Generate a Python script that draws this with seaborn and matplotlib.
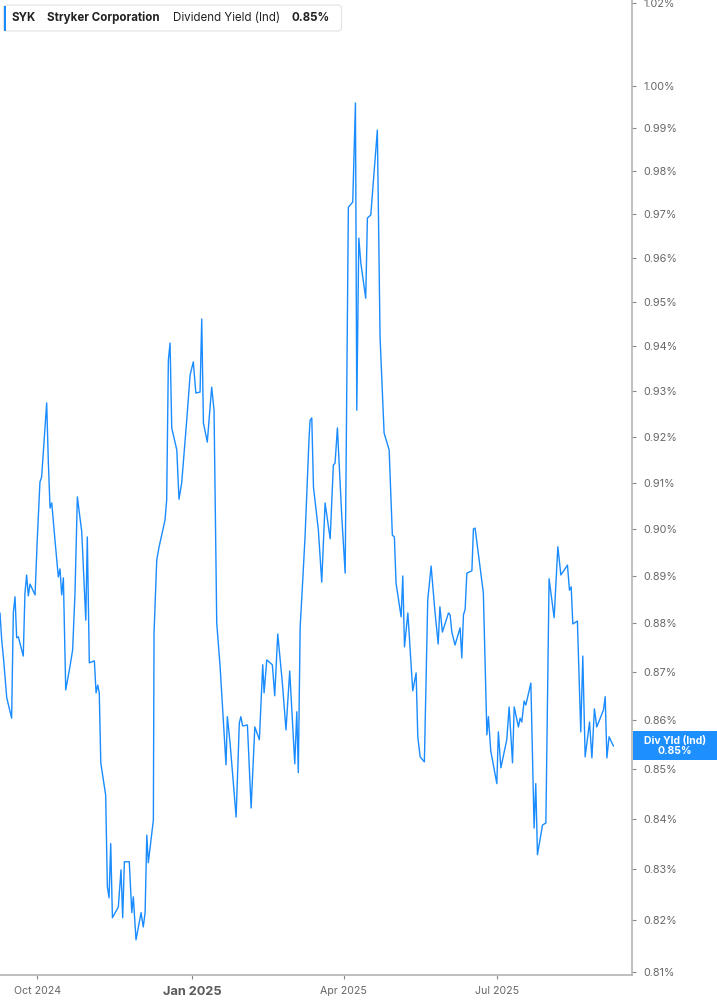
import numpy as np
import pandas as pd
import matplotlib
matplotlib.use("Agg")
import matplotlib.pyplot as plt
from matplotlib.ticker import FixedLocator, FixedFormatter, NullLocator
from matplotlib.patches import FancyBboxPatch, Rectangle
import seaborn as sns

# ---------------- data ----------------
START_DATE = "2024-09-09"

day_offsets = [
    0, 1.0, 2.0, 4.0, 6.9, 7.9, 8.9, 9.9, 10.9, 13.8,
    14.8, 15.8, 16.8, 17.8, 20.8, 22.1, 23.7, 24.7, 27.7, 28.7,
    29.7, 30.7, 32.6, 34.6, 35.6, 36.6, 37.6, 39.0, 41.5, 43.1,
    44.5, 45.9, 48.5, 50.9, 51.8, 53.0, 56.0, 57.0, 58.0, 58.9,
    59.8, 62.7, 63.7, 64.7, 65.7, 66.7, 70.2, 71.8, 72.8, 73.8,
    76.7, 78.2, 79.1, 80.7, 83.7, 85.0, 86.1, 87.1, 88.0, 91.0,
    91.4, 93.0, 94.4, 97.9, 98.9, 99.9, 100.9, 101.9, 104.9, 106.2,
    107.8, 110.8, 112.8, 114.7, 116.2, 118.7, 119.7, 120.7, 123.0, 125.6,
    127.0, 128.6, 130.6, 134.1, 134.9, 136.5, 140.1, 142.0, 142.9, 144.0,
    146.8, 149.0, 151.2, 153.9, 155.9, 156.7, 158.3, 161.6, 163.0, 164.8,
    167.5, 169.7, 171.9, 174.9, 176.1, 177.0, 178.1, 179.1, 181.0, 183.4,
    184.0, 185.0, 186.0, 188.9, 190.9, 192.9, 195.9, 197.8, 198.8, 200.2,
    202.8, 204.8, 206.7, 209.3, 210.9, 211.7, 212.9, 214.1, 217.0, 218.0,
    220.0, 223.9, 225.5, 227.9, 230.9, 232.8, 234.0, 235.0, 238.0, 239.0,
    240.0, 242.0, 244.9, 246.9, 247.9, 249.3, 251.8, 253.8, 255.8, 258.0,
    260.0, 261.0, 262.5, 266.1, 267.1, 268.1, 270.0, 273.0, 274.0, 275.0,
    276.0, 277.0, 280.0, 280.9, 281.9, 286.8, 288.9, 289.8, 291.2, 294.8,
    295.7, 297.2, 300.7, 302.1, 304.1, 305.1, 307.6, 308.6, 309.6, 311.0,
    312.0, 315.0, 316.9, 317.9, 318.9, 321.9, 323.9, 325.8, 328.8, 331.0,
    332.8, 336.7, 337.9, 338.9, 339.9, 342.6, 344.6, 345.8, 347.2, 349.8,
    351.2, 352.7, 354.1, 358.1, 359.1, 360.1, 361.4, 364.0,
]

dividend_yield_pct = [
    0.8822, 0.8766, 0.8730, 0.8646, 0.8604, 0.8822, 0.8856, 0.8770, 0.8772, 0.8732,
    0.8864, 0.8902, 0.8858, 0.8883, 0.8860, 0.8977, 0.9101, 0.9112, 0.9274, 0.9142,
    0.9045, 0.9056, 0.8977, 0.8898, 0.8915, 0.8860, 0.8896, 0.8662, 0.8710, 0.8745,
    0.8864, 0.9069, 0.8994, 0.8807, 0.8983, 0.8718, 0.8722, 0.8656, 0.8672, 0.8656,
    0.8513, 0.8448, 0.8266, 0.8244, 0.8351, 0.8205, 0.8226, 0.8299, 0.8205, 0.8315,
    0.8315, 0.8215, 0.8246, 0.8162, 0.8215, 0.8187, 0.8215, 0.8368, 0.8313, 0.8398,
    0.8780, 0.8934, 0.8962, 0.9019, 0.9062, 0.9369, 0.9407, 0.9219, 0.9171, 0.9064,
    0.9099, 0.9236, 0.9336, 0.9365, 0.9296, 0.9298, 0.9461, 0.9230, 0.9188, 0.9309,
    0.9258, 0.8801, 0.8710, 0.8509, 0.8607, 0.8554, 0.8404, 0.8594, 0.8607, 0.8588,
    0.8590, 0.8422, 0.8586, 0.8560, 0.8714, 0.8656, 0.8724, 0.8714, 0.8650, 0.8778,
    0.8678, 0.8580, 0.8701, 0.8511, 0.8617, 0.8493, 0.8793, 0.8856, 0.8983, 0.9199,
    0.9236, 0.9241, 0.9090, 0.8998, 0.8887, 0.9056, 0.8979, 0.9138, 0.9142, 0.9219,
    0.9026, 0.8906, 0.9716, 0.9728, 0.9960, 0.9258, 0.9645, 0.9588, 0.9508, 0.9691,
    0.9698, 0.9896, 0.9421, 0.9208, 0.9171, 0.8987, 0.8983, 0.8885, 0.8814, 0.8900,
    0.8751, 0.8822, 0.8660, 0.8697, 0.8566, 0.8525, 0.8515, 0.8849, 0.8921, 0.8828,
    0.8757, 0.8835, 0.8782, 0.8822, 0.8818, 0.8782, 0.8755, 0.8791, 0.8728, 0.8818,
    0.8830, 0.8906, 0.8911, 0.9000, 0.9002, 0.8864, 0.8570, 0.8607, 0.8537, 0.8471,
    0.8576, 0.8503, 0.8560, 0.8627, 0.8513, 0.8627, 0.8586, 0.8604, 0.8596, 0.8639,
    0.8631, 0.8676, 0.8382, 0.8471, 0.8329, 0.8388, 0.8392, 0.8894, 0.8812, 0.8962,
    0.8902, 0.8923, 0.8870, 0.8877, 0.8799, 0.8805, 0.8576, 0.8732, 0.8525, 0.8596,
    0.8523, 0.8623, 0.8586, 0.8621, 0.8648, 0.8523, 0.8566, 0.8547,
]

ytick_values = [0.81, 0.82, 0.83, 0.84, 0.85, 0.86, 0.87, 0.88, 0.89, 0.90,
                0.91, 0.92, 0.93, 0.94, 0.95, 0.96, 0.97, 0.98, 0.99, 1.00, 1.02]
xtick_dates = ["2024-10-01", "2025-01-01", "2025-04-01", "2025-07-01"]
xtick_labels = ["Oct 2024", "Jan 2025", "Apr 2025", "Jul 2025"]
bold_xtick = "Jan 2025"

ticker_symbol = "SYK"
company_name = "Stryker Corporation"
metric_name = "Dividend Yield (Ind)"
last_value_text = "0.85%"
badge_title = "Div Yld (Ind)"

# ---------------- style ----------------
LINE_BLUE = "#1a8cff"
AXIS_GRAY = "#b4b4b4"
TEXT_GRAY = "#666666"

sns.set_theme(style="white")
plt.rcParams['font.family'] = ['Inter', 'DejaVu Sans']

df = pd.DataFrame({
    "date": pd.Timestamp(START_DATE) + pd.to_timedelta(day_offsets, unit="D"),
    "yield": dividend_yield_pct,
})

W, H = 717, 1005
fig = plt.figure(figsize=(W / 100, H / 100), dpi=100)
fig.patch.set_facecolor("white")
ax = fig.add_axes([0, 30 / H, 632 / W, 975 / H])
ax.set_facecolor("white")

sns.lineplot(data=df, x="date", y="yield", ax=ax, color=LINE_BLUE,
             linewidth=1.0, estimator=None, sort=False)

ax.set_yscale("log")
ax.set_ylim(0.8094, 1.0207)
ax.set_xlim(pd.Timestamp(START_DATE), pd.Timestamp(START_DATE) + pd.Timedelta(days=375))

ax.yaxis.set_major_locator(FixedLocator(ytick_values))
ax.yaxis.set_major_formatter(FixedFormatter([f"{v:.2f}%" for v in ytick_values]))
ax.yaxis.set_minor_locator(NullLocator())
ax.yaxis.tick_right()
ax.tick_params(axis="y", which="major", left=False, right=True, labelleft=False,
               labelright=True, length=3, width=0.8, color="#888888",
               labelsize=7.8, labelcolor=TEXT_GRAY, pad=5)

xt = [pd.Timestamp(d) for d in xtick_dates]
ax.set_xticks(xt)
lbls = ax.set_xticklabels(xtick_labels)
ax.tick_params(axis="x", which="major", bottom=True, length=3, width=0.8,
               color="#888888", labelsize=7.6, labelcolor=TEXT_GRAY, pad=5)
ax.xaxis.set_minor_locator(NullLocator())
for lb in ax.get_xticklabels():
    if lb.get_text() == bold_xtick:
        lb.set_fontweight("bold")
        lb.set_fontsize(9.2)
        lb.set_color("#5a5a5a")

ax.set_xlabel("")
ax.set_ylabel("")
ax.grid(False)
for side in ("top", "left"):
    ax.spines[side].set_visible(False)
for side in ("right", "bottom"):
    ax.spines[side].set_color(AXIS_GRAY)
    ax.spines[side].set_linewidth(1.2)

# ---------------- legend box (top-left) ----------------
tr = fig.dpi_scale_trans
box = FancyBboxPatch((0.035, 9.74), 3.38, 0.26,
                     boxstyle="round,pad=0,rounding_size=0.035",
                     transform=tr, facecolor="white", edgecolor="#e2e2e2",
                     linewidth=0.8, zorder=5)
fig.patches.append(box)
fig.patches.append(Rectangle((0.035, 9.745), 0.025, 0.25, transform=tr,
                             facecolor=LINE_BLUE, edgecolor="none", zorder=6))
ty = 9.875
fig.text(0.12, ty, ticker_symbol, transform=tr, fontsize=8.3, fontweight="bold",
         color="#222222", va="center", ha="left", zorder=7)
fig.text(0.47, ty, company_name, transform=tr, fontsize=8.3, fontweight="bold",
         color="#222222", va="center", ha="left", zorder=7)
fig.text(1.73, ty, metric_name, transform=tr, fontsize=8.3, fontweight="normal",
         color="#222222", va="center", ha="left", zorder=7)
fig.text(2.92, ty, last_value_text, transform=tr, fontsize=8.3, fontweight="bold",
         color="#222222", va="center", ha="left", zorder=7)

# ---------------- last value badge (right) ----------------
fig.patches.append(Rectangle((6.33, 2.45), 0.84, 0.29, transform=tr,
                             facecolor="#1e8fff", edgecolor="none", zorder=5))
fig.text(6.75, 2.645, badge_title, transform=tr, fontsize=7.5, fontweight="bold",
         color="white", va="center", ha="center", zorder=6)
fig.text(6.75, 2.54, last_value_text, transform=tr, fontsize=7.5, fontweight="bold",
         color="white", va="center", ha="center", zorder=6)

fig.savefig("out.png", dpi=100, facecolor="white")
